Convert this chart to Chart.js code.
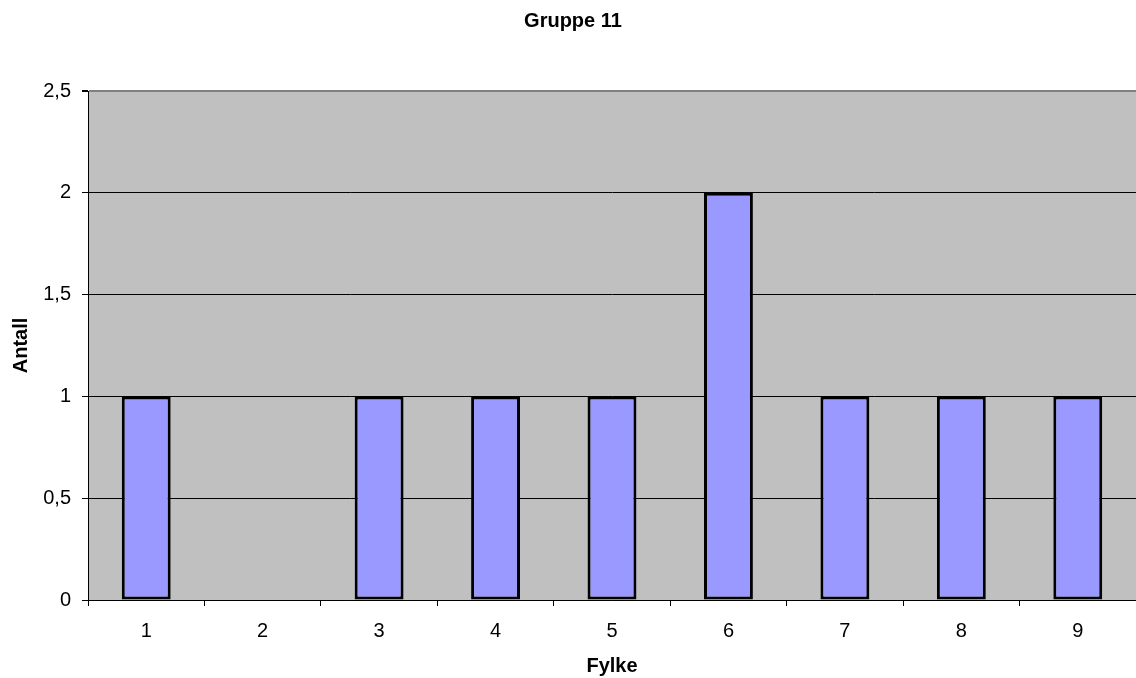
<!DOCTYPE html>
<html><head><meta charset="utf-8">
<script src="https://cdn.jsdelivr.net/npm/chart.js@4/dist/chart.umd.min.js"></script>
<style>html,body{margin:0;padding:0;background:#fff;}canvas{display:block;}</style>
</head><body>
<canvas id="c" width="1136" height="678"></canvas>
<script>
const chartTitle = "Gruppe 11";
const xTitle = "Fylke";
const yTitle = "Antall";
const categories = ["1","2","3","4","5","6","7","8","9"];
const values = [1, 0, 1, 1, 1, 2, 1, 1, 1];
const yTicks = [0, 0.5, 1, 1.5, 2, 2.5];

const FONT = "'Liberation Sans', Arial, sans-serif";

const bgPlugin = {
  id: 'bg',
  beforeDraw(chart) {
    const {ctx, chartArea: a} = chart;
    ctx.save();
    ctx.fillStyle = '#fff';
    ctx.fillRect(0, 0, chart.width, chart.height);
    ctx.fillStyle = '#C0C0C0';
    ctx.fillRect(a.left, a.top, a.right - a.left, a.bottom - a.top);
    ctx.restore();
  },
  afterDraw(chart) {
    const {ctx} = chart;
    ctx.save();
    ctx.fillStyle = '#000';
    ctx.font = "bold 20px " + FONT;
    ctx.textAlign = 'center';
    ctx.textBaseline = 'middle';
    ctx.fillText(chartTitle, 573, 21);
    ctx.restore();
  }
};

new Chart(document.getElementById('c'), {
  type: 'bar',
  data: {
    labels: categories,
    datasets: [{
      data: values,
      backgroundColor: '#9999FF',
      borderColor: '#000',
      borderWidth: 3,
      borderSkipped: false,
      barPercentage: 0.42,
      categoryPercentage: 1
    }]
  },
  options: {
    responsive: false,
    animation: false,
    devicePixelRatio: 1,
    layout: { padding: { top: 91, right: 0, left: 0, bottom: 0 } },
    plugins: { legend: { display: false }, title: { display: false }, tooltip: { enabled: false } },
    scales: {
      x: {
        offset: true,
        grid: { offset: true, drawOnChartArea: false, drawTicks: true, tickLength: 6, color: '#000', lineWidth: 1 },
        border: { display: true, color: '#000', width: 1 },
        ticks: { color: '#000', font: { family: FONT, size: 20 }, padding: 13, maxRotation: 0 },
        title: { display: true, text: xTitle, color: '#000', font: { family: FONT, size: 20, weight: 'bold' }, padding: { top: 6, bottom: 0 } },
        afterFit(s) { s.height = 78; }
      },
      y: {
        min: 0, max: 2.5,
        afterBuildTicks(s) { s.ticks = yTicks.map(v => ({ value: v })); },
        grid: {
          color: (c) => (c.tick && c.tick.value === 2.5) ? '#808080' : '#000',
          lineWidth: (c) => (c.tick && c.tick.value === 2.5) ? 2 : 1,
          tickColor: '#000',
          tickLength: 6
        },
        border: { display: true, color: '#000', width: 1 },
        ticks: {
          color: '#000', font: { family: FONT, size: 20 }, padding: 11,
          callback: (v) => String(v).replace('.', ',')
        },
        title: { display: true, text: yTitle, color: '#000', font: { family: FONT, size: 20, weight: 'bold' }, padding: { top: 9, bottom: 0 } },
        afterFit(s) { s.width = 88; }
      }
    }
  },
  plugins: [bgPlugin]
});
</script>
</body></html>
